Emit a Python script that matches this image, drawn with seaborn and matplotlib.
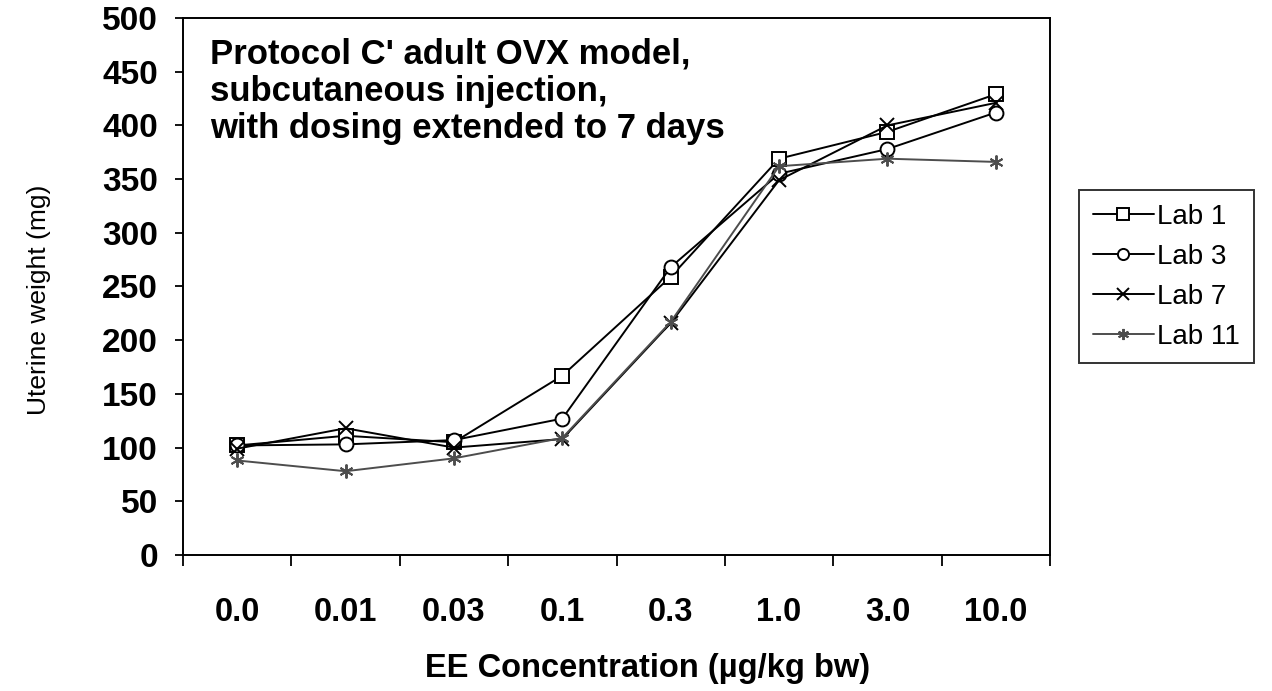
import pandas as pd
import seaborn as sns
import matplotlib.pyplot as plt

# valores (peso uterino em mg)
conc = ["0.0", "0.01", "0.03", "0.1", "0.3", "1.0", "3.0", "10.0"]
lab1 = [102, 111, 105, 167, 259, 369, 394, 429]
lab3 = [102, 103, 107, 127, 268, 355, 378, 412]
lab7 = [99, 118, 100, 108, 216, 349, 400, 421]
lab11 = [88, 78, 90, 109, 217, 362, 369, 366]
labs = ["Lab 1", "Lab 3", "Lab 7", "Lab 11"]

df = pd.DataFrame({
    "conc": conc * 4,
    "peso": lab1 + lab3 + lab7 + lab11,
    "lab": [l for l in labs for _ in conc],
})

sns.set_style("ticks")
plt.rcParams["font.family"] = ["Liberation Sans", "DejaVu Sans"]
plt.rcParams["text.color"] = "black"
plt.rcParams["axes.labelcolor"] = "black"
plt.rcParams["xtick.color"] = "black"
plt.rcParams["ytick.color"] = "black"

fig = plt.figure(figsize=(12.72, 6.91), dpi=100)
ax = fig.add_axes([183 / 1272, 1 - 555 / 691, 867 / 1272, 537 / 691])

cores = {"Lab 1": "black", "Lab 3": "black", "Lab 7": "black", "Lab 11": "#4d4d4d"}
marcadores = {"Lab 1": "s", "Lab 3": "o", "Lab 7": "x", "Lab 11": (6, 2, 0)}

# uma chamada por laboratório (marcadores cheios e de linha não se misturam no seaborn)
for lab in labs:
    sub = df[df["lab"] == lab]
    sns.lineplot(data=sub, x="conc", y="peso", color=cores[lab], marker=marcadores[lab],
                 sort=False, linewidth=1.4, markersize=10, markerfacecolor="white",
                 markeredgecolor=cores[lab], markeredgewidth=1.4, label=lab, ax=ax)

ax.set_ylim(0, 500)
ax.set_yticks(range(0, 501, 50))
ax.set_xlim(-0.5, 7.5)
ax.set_xticks(range(len(conc)))
ax.set_xticklabels(conc)
ax.set_xticks([i - 0.5 for i in range(len(conc) + 1)], minor=True)
ax.tick_params(axis="x", which="major", length=0, pad=30, labelsize=23.5)
ax.tick_params(axis="x", which="minor", length=8, width=1.3, color="black")
ax.tick_params(axis="y", length=6, width=1.3, color="black", pad=12, labelsize=24)
for lbl in ax.get_xticklabels() + ax.get_yticklabels():
    lbl.set_fontweight("bold")

for sp in ax.spines.values():
    sp.set_visible(True)
    sp.set_color("black")
    sp.set_linewidth(1.4)

ax.set_xlabel("EE Concentration (µg/kg bw)", fontsize=23.5, fontweight="bold")
ax.xaxis.set_label_coords(0.536, -0.183)
ax.set_ylabel("Uterine weight (mg)", fontsize=19)
ax.yaxis.set_label_coords(-0.152, 0.475)

ax.text(0.031, 0.963, "Protocol C' adult OVX model,\nsubcutaneous injection,\nwith dosing extended to 7 days",
        transform=ax.transAxes, ha="left", va="top", fontsize=25, fontweight="bold",
        linespacing=1.15)

leg = ax.legend(loc="upper left", bbox_to_anchor=(1079 / 1272, 1 - 190 / 691),
                bbox_transform=fig.transFigure, borderaxespad=0, frameon=True, fancybox=False,
                fontsize=20, handlelength=2.2, handletextpad=0.1, borderpad=0.5,
                labelspacing=0.5, markerscale=0.8)
leg.get_frame().set_edgecolor("black")
leg.get_frame().set_linewidth(1.4)

fig.savefig("out.png", dpi=100)
